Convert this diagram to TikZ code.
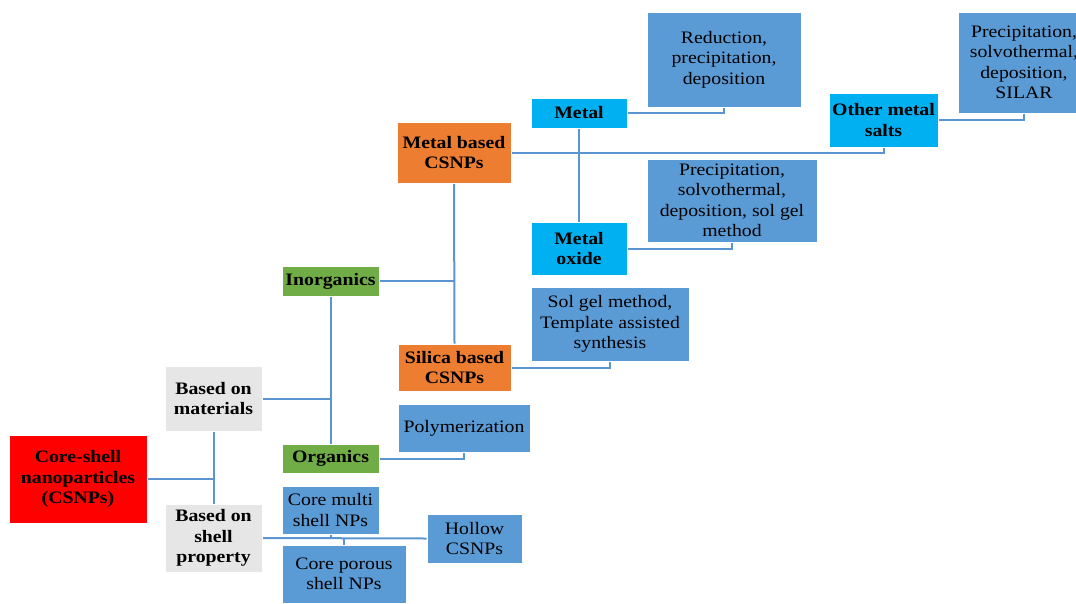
\documentclass[tikz,border=0pt]{standalone}
\usepackage{fontspec}
\usetikzlibrary{backgrounds}
\setmainfont{Liberation Serif}[FakeStretch=1.13]
\definecolor{cred}{HTML}{FF0000}
\definecolor{cgray}{HTML}{E7E6E6}
\definecolor{cgreen}{HTML}{70AD47}
\definecolor{corange}{HTML}{ED7D31}
\definecolor{ccyan}{HTML}{00B0F0}
\definecolor{cblue}{HTML}{5B9BD5}
\definecolor{cline}{HTML}{5B95CF}
\tikzset{
  box/.style={rectangle, draw=white, line width=0.8pt, inner sep=0pt, align=center,
    text=black, font=\fontsize{17.5}{20.5}\selectfont},
  catbox/.style={box, font=\fontsize{17.5}{20.5}\selectfont\bfseries},
  redbox/.style={catbox, fill=cred},
  graybox/.style={catbox, fill=cgray},
  greenbox/.style={catbox, fill=cgreen},
  orangebox/.style={catbox, fill=corange},
  cyanbox/.style={catbox, fill=ccyan},
  methodbox/.style={box, fill=cblue},
  link/.style={draw=cline, line width=2pt},
}
\newcommand{\bx}[7]{% style, name, x1, y1, x2, y2, text
  \node[#1, minimum width=#5-#3, minimum height=#6-#4] (#2) at ({(#3+#5)/2},{(#4+#6)/2}) {#7};}
\begin{document}
\begin{tikzpicture}[x=1pt, y=-1pt]
\useasboundingbox (0,0) rectangle (1076,603);
\clip (0,0) rectangle (1076,603);

% root and the two classification criteria
\bx{redbox}{core}{9}{435}{147}{523}{Core-shell\\nanoparticles\\(CSNPs)}
\bx{graybox}{mat}{165}{366}{262}{431}{Based on\\materials}
\bx{graybox}{shell}{165}{504}{262}{572}{Based on\\shell\\property}

% material classes
\bx{greenbox}{inorg}{282}{266}{379}{296}{Inorganics}
\bx{greenbox}{org}{282}{444}{379}{473}{Organics}
\bx{orangebox}{metalb}{397}{122}{511}{183}{Metal based\\CSNPs}
\bx{orangebox}{silica}{398}{344}{511}{391}{Silica based\\CSNPs}
\bx{cyanbox}{metal}{531}{98}{627}{128}{Metal}
\bx{cyanbox}{moxide}{531}{222}{627}{275}{Metal\\oxide}
\bx{cyanbox}{other}{829}{93}{938}{147}{Other metal\\salts}

% synthesis methods
\bx{methodbox}{redu}{647}{12}{801}{107}{Reduction,\\precipitation,\\deposition}
\bx{methodbox}{precox}{647}{159}{817}{242}{Precipitation,\\solvothermal,\\deposition, sol gel\\method}
\bx{methodbox}{precsalt}{958}{12}{1090}{113}{Precipitation,\\solvothermal,\\deposition,\\SILAR}
\bx{methodbox}{solgel}{531}{287}{689}{361}{Sol gel method,\\Template assisted\\synthesis}
\bx{methodbox}{poly}{398}{404}{530}{452}{Polymerization}

% shell property classes
\bx{methodbox}{multi}{282}{486}{379}{534}{Core multi\\shell NPs}
\bx{methodbox}{porous}{282}{545}{406}{603}{Core porous\\shell NPs}
\bx{methodbox}{hollow}{427}{514}{522}{563}{Hollow\\CSNPs}

% connectors, kept behind the boxes
\begin{pgfonlayer}{background}
\draw[link] (core.east) -- (core.east -| mat.south);
\draw[link] (mat.south) -- (shell.north);
\draw[link] (mat.east) -- (mat.east -| inorg.south);
\draw[link] (inorg.south) -- (org.north);
\draw[link] (inorg.east) -- (inorg.east -| metalb.south);
\draw[link] (metalb.south) -- (silica.north);
\draw[link] (metalb.east) -| (other.south);
\draw[link] (metal.south) -- (moxide.north);
\draw[link] (metal.east) -| (redu.south);
\draw[link] (moxide.east) -| (precox.south);
\draw[link] (other.east) -| (precsalt.south);
\draw[link] (silica.east) -| (solgel.south);
\draw[link] (org.east) -| (poly.south);
\draw[link] (shell.east) -- (hollow.west);
\coordinate (sj) at (shell.east);
\draw[link] (multi.south) -- (multi.south |- sj);
\draw[link] (porous.north) -- (porous.north |- sj);
\end{pgfonlayer}
\end{tikzpicture}
\end{document}
